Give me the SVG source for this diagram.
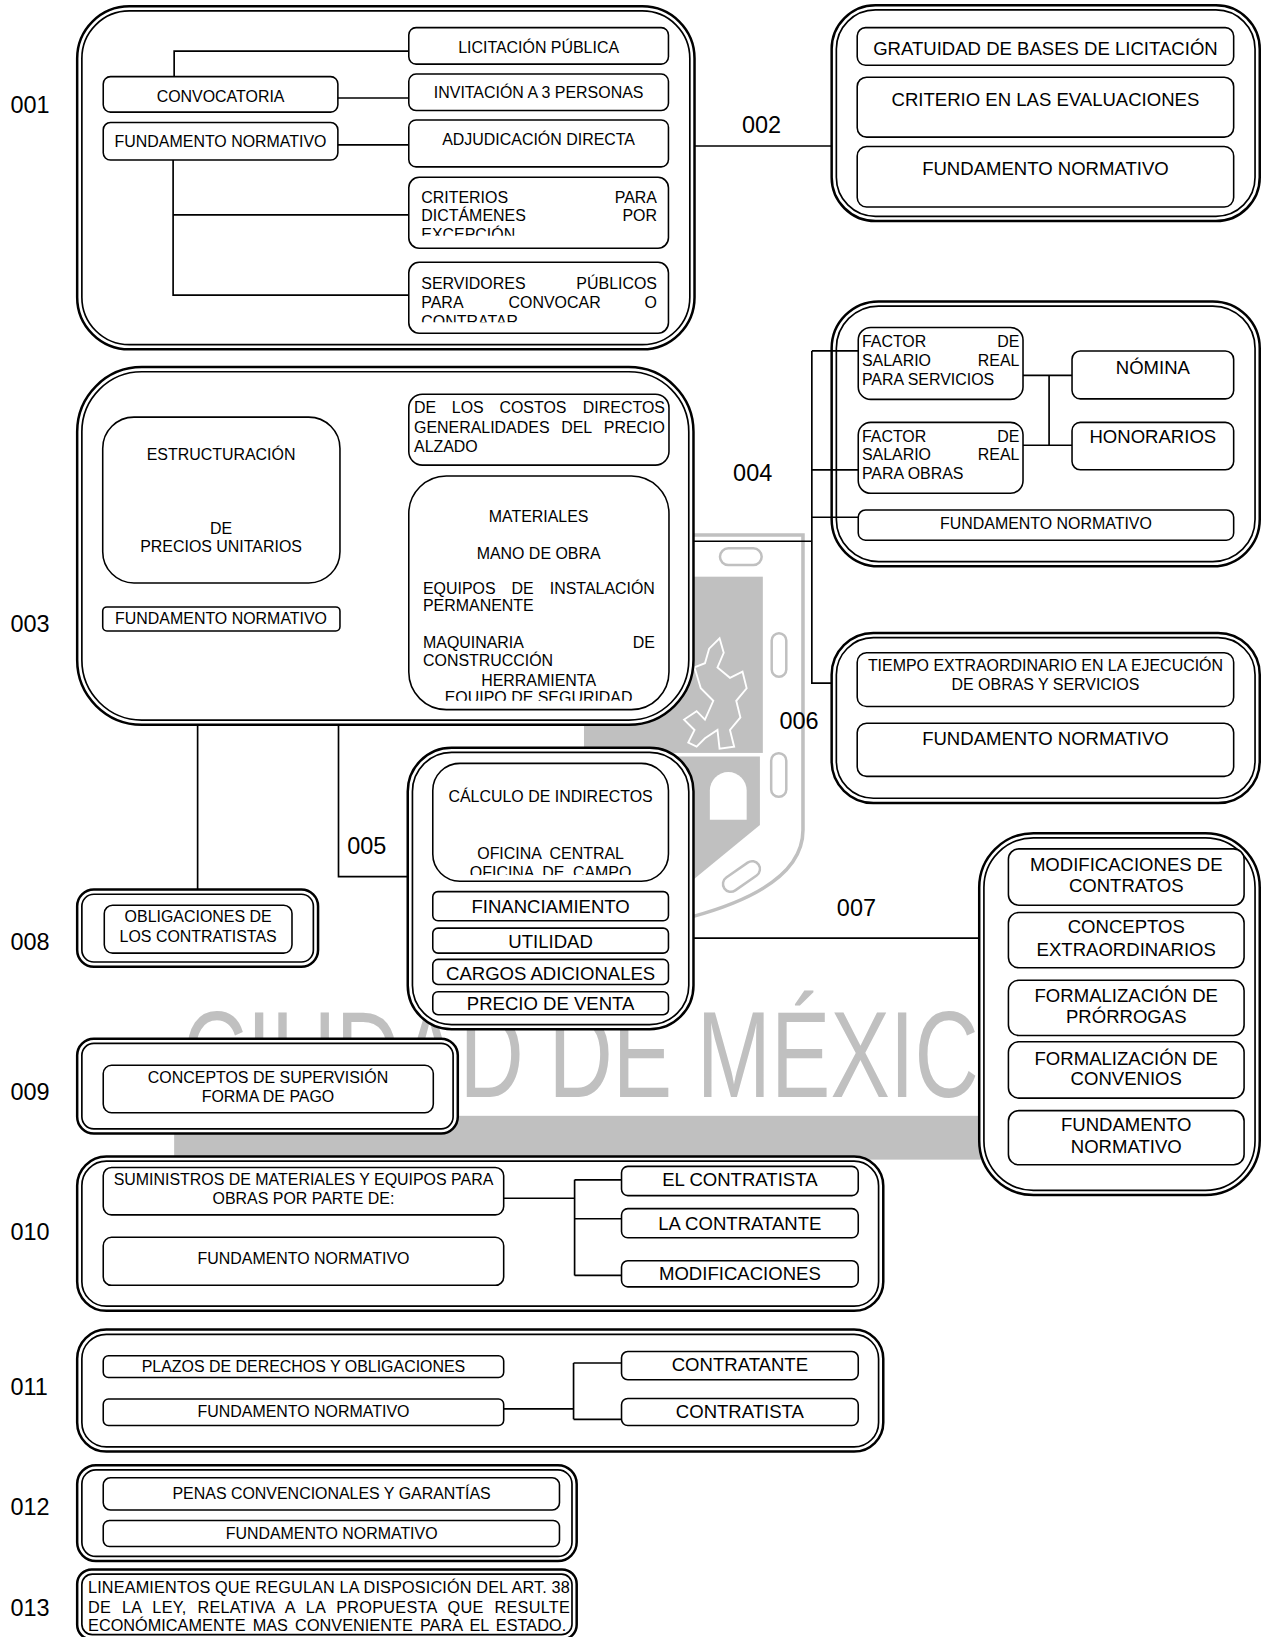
<svg xmlns="http://www.w3.org/2000/svg" width="1266" height="1637" viewBox="0 0 1266 1637">
<defs>
<style>
.o{fill:#fff;stroke:#000;stroke-width:2.4}
.i{fill:none;stroke:#000;stroke-width:1.6}
.b{fill:#fff;stroke:#000;stroke-width:1.5}
.c{fill:none;stroke:#000;stroke-width:1.6}
text{font-family:"Liberation Sans",Arial,Helvetica,sans-serif;font-size:15.3px;fill:#000}
.m{text-anchor:middle}
.e{text-anchor:end}
.L{font-size:17.8px}
.n{font-size:22.5px}
.wm{fill:#c0c0c0}
.wml{fill:none;stroke:#c0c0c0;stroke-width:3.4}
.wmp{fill:#fff;stroke:#c0c0c0;stroke-width:2.4}
.wmt{fill:#c0c0c0;font-size:117px}
.t13{font-size:15.6px}
</style>
<clipPath id="cpCrit"><rect x="392" y="170" width="249" height="56"/></clipPath>
<clipPath id="cpServ"><rect x="392" y="251.5" width="249" height="57.5"/></clipPath>
<clipPath id="cpMat"><rect x="392" y="456" width="250" height="216"/></clipPath>
<clipPath id="cpCalc"><rect x="415" y="732" width="226" height="107"/></clipPath>
</defs>
<rect width="1266" height="1637" fill="#fff"/>
<g transform="scale(1.04283)">

<g id="watermark">
<rect class="wm" x="560" y="553" width="171.5" height="169"/>
<path class="wm" d="M560,725.5H728.7V791L664.7,843.7H560Z"/>
<path fill="#fff" d="M680.7,786V758A17.65,17.65 0 0 1 716,758V786Z"/>
<path fill="none" stroke="#fff" stroke-width="1.8" d="M690,612L694,626L688,640L700,650L712,644L716,660L706,672L710,688L700,700L704,716L690,718L688,700L676,708L668,716L660,712L666,700L656,690L668,682L676,690L684,672L672,660L666,640L676,636L680,622Z"/>
<path class="wml" d="M665,513H770V796Q770,850 664,879"/>
<rect class="wmp" x="690.4" y="525.8" width="40" height="16" rx="8"/>
<rect class="wmp" x="740" y="607.3" width="14" height="41.7" rx="7"/>
<rect class="wmp" x="739.5" y="722.4" width="14.5" height="41.6" rx="7"/>
<rect class="wmp" x="691" y="833" width="40" height="15" rx="7.5" transform="rotate(-35 711 840.5)"/>
<text class="wmt" x="175" y="1051.5" textLength="830" lengthAdjust="spacingAndGlyphs">CIUDAD DE MÉXICO</text>
<rect class="wm" x="167" y="1070" width="833" height="42"/>
</g>

<g id="n001">
<text class="n" x="10" y="108">001</text>
<rect class="o" x="74" y="6" width="592" height="329" rx="50"/>
<rect class="i" x="78.5" y="10.5" width="583" height="320" rx="45.5"/>
<rect class="b" x="99" y="73.5" width="225" height="34" rx="7"/>
<text class="m" x="211.5" y="98.1">CONVOCATORIA</text>
<rect class="b" x="99" y="117.5" width="225" height="36" rx="7"/>
<text class="m" x="211.5" y="141.3">FUNDAMENTO NORMATIVO</text>
<rect class="b" x="392" y="26.5" width="249" height="35" rx="7"/>
<text class="m" x="516.5" y="51.1">LICITACIÓN PÚBLICA</text>
<rect class="b" x="392" y="71" width="249" height="35" rx="7"/>
<text class="m" x="516.5" y="94.3">INVITACIÓN A 3 PERSONAS</text>
<rect class="b" x="392" y="115" width="249" height="45" rx="7"/>
<text class="m" x="516.5" y="139.4">ADJUDICACIÓN DIRECTA</text>
<rect class="b" x="392" y="170" width="249" height="68" rx="10"/>
<g clip-path="url(#cpCrit)">
<text x="404" y="194.4">CRITERIOS</text><text class="e" x="630" y="194.4">PARA</text>
<text x="404" y="212.4">DICTÁMENES</text><text class="e" x="630" y="212.4">POR</text>
<text x="404" y="230.4">EXCEPCIÓN</text>
</g>
<rect class="b" x="392" y="251.5" width="249" height="68" rx="10"/>
<g clip-path="url(#cpServ)">
<text x="404" y="277.1">SERVIDORES</text><text class="e" x="630" y="277.1">PÚBLICOS</text>
<text x="404" y="295.1">PARA</text><text x="487.7" y="295.1">CONVOCAR</text><text class="e" x="630" y="295.1">O</text>
<text x="404" y="313.1">CONTRATAR</text>
</g>
</g>

<g id="n002">
<text class="n" x="711.5" y="128">002</text>
<rect class="o" x="797.5" y="5" width="410.5" height="207" rx="42"/>
<rect class="i" x="802" y="9.5" width="401.5" height="198" rx="37.5"/>
<rect class="b" x="822" y="26.5" width="361" height="36" rx="8"/>
<text class="m L" x="1002.5" y="52.6">GRATUIDAD DE BASES DE LICITACIÓN</text>
<rect class="b" x="822" y="74" width="361" height="57.5" rx="9"/>
<text class="m L" x="1002.5" y="101.3">CRITERIO EN LAS EVALUACIONES</text>
<rect class="b" x="822" y="140.5" width="361" height="58" rx="9"/>
<text class="m L" x="1002.5" y="167.7">FUNDAMENTO NORMATIVO</text>
</g>

<g id="n003">
<text class="n" x="10" y="606">003</text>
<rect class="o" x="74" y="352" width="591" height="343" rx="62"/>
<rect class="i" x="78.5" y="356.5" width="582" height="334" rx="57.5"/>
<rect class="b" x="98.5" y="400" width="227.5" height="159" rx="30"/>
<text class="m" x="212" y="441.4">ESTRUCTURACIÓN</text>
<text class="m" x="212" y="512.4">DE</text>
<text class="m" x="212" y="529.4">PRECIOS UNITARIOS</text>
<rect class="b" x="98.5" y="582" width="227.5" height="23" rx="4"/>
<text class="m" x="212" y="598.1">FUNDAMENTO NORMATIVO</text>
<rect class="b" x="392" y="378" width="249.5" height="68" rx="13"/>
<text x="397" y="396.4">DE</text><text x="433.3" y="396.4">LOS</text><text x="478.9" y="396.4">COSTOS</text><text class="e" x="637.6" y="396.4">DIRECTOS</text>
<text x="397" y="414.8">GENERALIDADES</text><text x="538.1" y="414.8">DEL</text><text class="e" x="637.6" y="414.8">PRECIO</text>
<text x="397" y="433">ALZADO</text>
<rect class="b" x="392" y="456.5" width="249.5" height="224" rx="36"/>
<g clip-path="url(#cpMat)">
<text class="m" x="516.5" y="500.8">MATERIALES</text>
<text class="m" x="516.5" y="535.8">MANO DE OBRA</text>
<text x="405.6" y="569.4">EQUIPOS</text><text x="490.5" y="569.4">DE</text><text class="e" x="628" y="569.4">INSTALACIÓN</text>
<text x="405.6" y="586.1">PERMANENTE</text>
<text x="405.6" y="621.4">MAQUINARIA</text><text class="e" x="628" y="621.4">DE</text>
<text x="405.6" y="638.8">CONSTRUCCIÓN</text>
<text class="m" x="516.5" y="657.4">HERRAMIENTA</text>
<text class="m" x="516.5" y="674.4">EQUIPO DE SEGURIDAD</text>
</g>
</g>

<g id="n004">
<text class="n" x="703" y="461">004</text>
<rect class="o" x="797.5" y="289" width="410.5" height="254" rx="45"/>
<rect class="i" x="802" y="293.5" width="401.5" height="245" rx="40.5"/>
<rect class="b" x="823" y="314" width="158" height="69" rx="12"/>
<text x="826.5" y="333">FACTOR</text><text class="e" x="977.6" y="333">DE</text>
<text x="826.5" y="350.8">SALARIO</text><text class="e" x="977.6" y="350.8">REAL</text>
<text x="826.5" y="368.8">PARA SERVICIOS</text>
<rect class="b" x="823" y="405" width="158" height="68" rx="12"/>
<text x="826.5" y="423.4">FACTOR</text><text class="e" x="977.6" y="423.4">DE</text>
<text x="826.5" y="441.2">SALARIO</text><text class="e" x="977.6" y="441.2">REAL</text>
<text x="826.5" y="459.2">PARA OBRAS</text>
<rect class="b" x="1028" y="336.5" width="155" height="46" rx="8"/>
<text class="m L" x="1105.5" y="358.3">NÓMINA</text>
<rect class="b" x="1028" y="405" width="155" height="45.5" rx="8"/>
<text class="m L" x="1105.5" y="425">HONORARIOS</text>
<rect class="b" x="823" y="489" width="360" height="29" rx="7"/>
<text class="m" x="1003" y="507.1">FUNDAMENTO NORMATIVO</text>
</g>

<g id="n005">
<text class="n" x="333" y="819">005</text>
<rect class="o" x="391" y="717" width="274" height="270" rx="42"/>
<rect class="i" x="395.5" y="721.5" width="265" height="261" rx="37.5"/>
<rect class="b" x="415" y="732" width="226" height="113" rx="26"/>
<text class="m" x="528" y="769.4">CÁLCULO DE INDIRECTOS</text>
<g clip-path="url(#cpCalc)">
<text class="m" x="528" y="823.4" style="word-spacing:4px">OFICINA CENTRAL</text>
<text class="m" x="528" y="841.9" style="word-spacing:4px">OFICINA DE CAMPO</text>
</g>
<rect class="b" x="415" y="855" width="226" height="28" rx="5"/>
<text class="m L" x="528" y="875.6">FINANCIAMIENTO</text>
<rect class="b" x="415" y="890" width="226" height="24" rx="5"/>
<text class="m L" x="528" y="909.3">UTILIDAD</text>
<rect class="b" x="415" y="920" width="226" height="24" rx="5"/>
<text class="m L" x="528" y="939.6">CARGOS ADICIONALES</text>
<rect class="b" x="415" y="951" width="226" height="22" rx="5"/>
<text class="m L" x="528" y="968.3">PRECIO DE VENTA</text>
</g>

<g id="n006">
<text class="n" x="747.5" y="699">006</text>
<rect class="o" x="797.5" y="607" width="410.5" height="163" rx="40"/>
<rect class="i" x="802" y="611.5" width="401.5" height="154" rx="35.5"/>
<rect class="b" x="822" y="626" width="361" height="51.5" rx="9"/>
<text class="m" x="1002.5" y="643.4">TIEMPO EXTRAORDINARIO EN LA EJECUCIÓN</text>
<text class="m" x="1002.5" y="661.4">DE OBRAS Y SERVICIOS</text>
<rect class="b" x="822" y="693.5" width="361" height="51" rx="9"/>
<text class="m L" x="1002.5" y="714.2">FUNDAMENTO NORMATIVO</text>
</g>

<g id="n007">
<text class="n" x="802.5" y="878">007</text>
<rect class="o" x="939" y="799" width="269" height="347" rx="52"/>
<rect class="i" x="943.5" y="803.5" width="260" height="338" rx="47.5"/>
<rect class="b" x="967" y="814" width="226" height="54" rx="10"/>
<text class="m L" x="1080" y="834.8">MODIFICACIONES DE</text>
<text class="m L" x="1080" y="855.3">CONTRATOS</text>
<rect class="b" x="967" y="875" width="226" height="53" rx="10"/>
<text class="m L" x="1080" y="894.8">CONCEPTOS</text>
<text class="m L" x="1080" y="916.3">EXTRAORDINARIOS</text>
<rect class="b" x="967" y="940" width="226" height="53" rx="10"/>
<text class="m L" x="1080" y="961.3">FORMALIZACIÓN DE</text>
<text class="m L" x="1080" y="981.3">PRÓRROGAS</text>
<rect class="b" x="967" y="999" width="226" height="54" rx="10"/>
<text class="m L" x="1080" y="1020.9">FORMALIZACIÓN DE</text>
<text class="m L" x="1080" y="1040.9">CONVENIOS</text>
<rect class="b" x="967" y="1065" width="226" height="52" rx="10"/>
<text class="m L" x="1080" y="1084.9">FUNDAMENTO</text>
<text class="m L" x="1080" y="1105.3">NORMATIVO</text>
</g>

<g id="n008">
<text class="n" x="10" y="911">008</text>
<rect class="o" x="74" y="853" width="231" height="74" rx="16"/>
<rect class="i" x="78.5" y="857.5" width="222" height="65" rx="11.5"/>
<rect class="b" x="100" y="868" width="180" height="46" rx="8"/>
<text class="m" x="190" y="884.4">OBLIGACIONES DE</text>
<text class="m" x="190" y="903.4">LOS CONTRATISTAS</text>
</g>

<g id="n009">
<text class="n" x="10" y="1055">009</text>
<rect class="o" x="74" y="996" width="365" height="91" rx="16"/>
<rect class="i" x="78.5" y="1000.5" width="356" height="82" rx="11.5"/>
<rect class="b" x="99" y="1021.5" width="316.5" height="45.5" rx="8"/>
<text class="m" x="257" y="1038.4">CONCEPTOS DE SUPERVISIÓN</text>
<text class="m" x="257" y="1056.4">FORMA DE PAGO</text>
</g>

<g id="n010">
<text class="n" x="10" y="1189.5">010</text>
<rect class="o" x="74" y="1109" width="773" height="148" rx="28"/>
<rect class="i" x="78.5" y="1113.5" width="764" height="139" rx="23.5"/>
<rect class="b" x="99" y="1119.5" width="384" height="45.5" rx="8"/>
<text class="m" x="291" y="1136.8">SUMINISTROS DE MATERIALES Y EQUIPOS PARA</text>
<text class="m" x="291" y="1155">OBRAS POR PARTE DE:</text>
<rect class="b" x="99" y="1186.5" width="384" height="46" rx="8"/>
<text class="m" x="291" y="1211.7">FUNDAMENTO NORMATIVO</text>
<rect class="b" x="596" y="1118.5" width="227" height="28" rx="6"/>
<text class="m L" x="709.5" y="1137.7">EL CONTRATISTA</text>
<rect class="b" x="596" y="1159" width="227" height="28" rx="6"/>
<text class="m L" x="709.5" y="1179.1">LA CONTRATANTE</text>
<rect class="b" x="596" y="1209" width="227" height="25" rx="6"/>
<text class="m L" x="709.5" y="1227.8">MODIFICACIONES</text>
</g>

<g id="n011">
<text class="n" x="10" y="1337.5">011</text>
<rect class="o" x="74" y="1275" width="773" height="117" rx="28"/>
<rect class="i" x="78.5" y="1279.5" width="764" height="108" rx="23.5"/>
<rect class="b" x="99" y="1300" width="384" height="21" rx="5"/>
<text class="m" x="291" y="1315.9">PLAZOS DE DERECHOS Y OBLIGACIONES</text>
<rect class="b" x="99" y="1341.5" width="384" height="25.5" rx="5"/>
<text class="m" x="291" y="1358.9">FUNDAMENTO NORMATIVO</text>
<rect class="b" x="596" y="1296" width="227" height="27" rx="6"/>
<text class="m L" x="709.5" y="1314.3">CONTRATANTE</text>
<rect class="b" x="596" y="1341" width="227" height="26" rx="6"/>
<text class="m L" x="709.5" y="1359.3">CONTRATISTA</text>
</g>

<g id="n012">
<text class="n" x="10" y="1452.6">012</text>
<rect class="o" x="74" y="1405" width="479" height="92" rx="18"/>
<rect class="i" x="78.5" y="1409.5" width="470" height="83" rx="13.5"/>
<rect class="b" x="99" y="1417" width="437.5" height="31" rx="7"/>
<text class="m" x="318" y="1437">PENAS CONVENCIONALES Y GARANTÍAS</text>
<rect class="b" x="99" y="1458" width="437.5" height="25" rx="6"/>
<text class="m" x="318" y="1475.4">FUNDAMENTO NORMATIVO</text>
</g>

<g id="n013">
<text class="n" x="10" y="1550">013</text>
<rect class="o" x="74" y="1505" width="479" height="67" rx="14"/>
<rect class="i" x="78.5" y="1509.5" width="470" height="58" rx="10"/>
<text class="t13" x="84.4" y="1528" textLength="462" lengthAdjust="spacing">LINEAMIENTOS QUE REGULAN LA DISPOSICIÓN DEL ART. 38</text>
<text class="t13" x="84.4" y="1546.3" style="word-spacing:5.8px" textLength="462" lengthAdjust="spacing">DE LA LEY, RELATIVA A LA PROPUESTA QUE RESULTE</text>
<text class="t13" x="84.4" y="1564.3" style="word-spacing:2.5px" textLength="458.5" lengthAdjust="spacing">ECONÓMICAMENTE MAS CONVENIENTE PARA EL ESTADO.</text>
</g>

<g id="connectors" class="c">
<path d="M167,73.5V49H392"/>
<path d="M324,94H392"/>
<path d="M324,139H392"/>
<path d="M166,153.5V283H392M166,206H392"/>
<path d="M666,140H797.5"/>
<path d="M665,519H778.5M778.5,336.5V655H797.5M778.5,336.5H823M778.5,450.6H823M778.5,496H823"/>
<path d="M981,360H1028M981,427H1028M1006,360V427"/>
<path d="M324.6,695V840.7H391"/>
<path d="M189.5,695V853"/>
<path d="M665,899.6H939"/>
<path d="M483,1149H551M551,1131.4V1223M551,1131.4H596M551,1168.7H596M551,1223H596"/>
<path d="M483,1351H550M550,1307V1361M550,1307H596M550,1361H596"/>
</g>

</g>
</svg>
